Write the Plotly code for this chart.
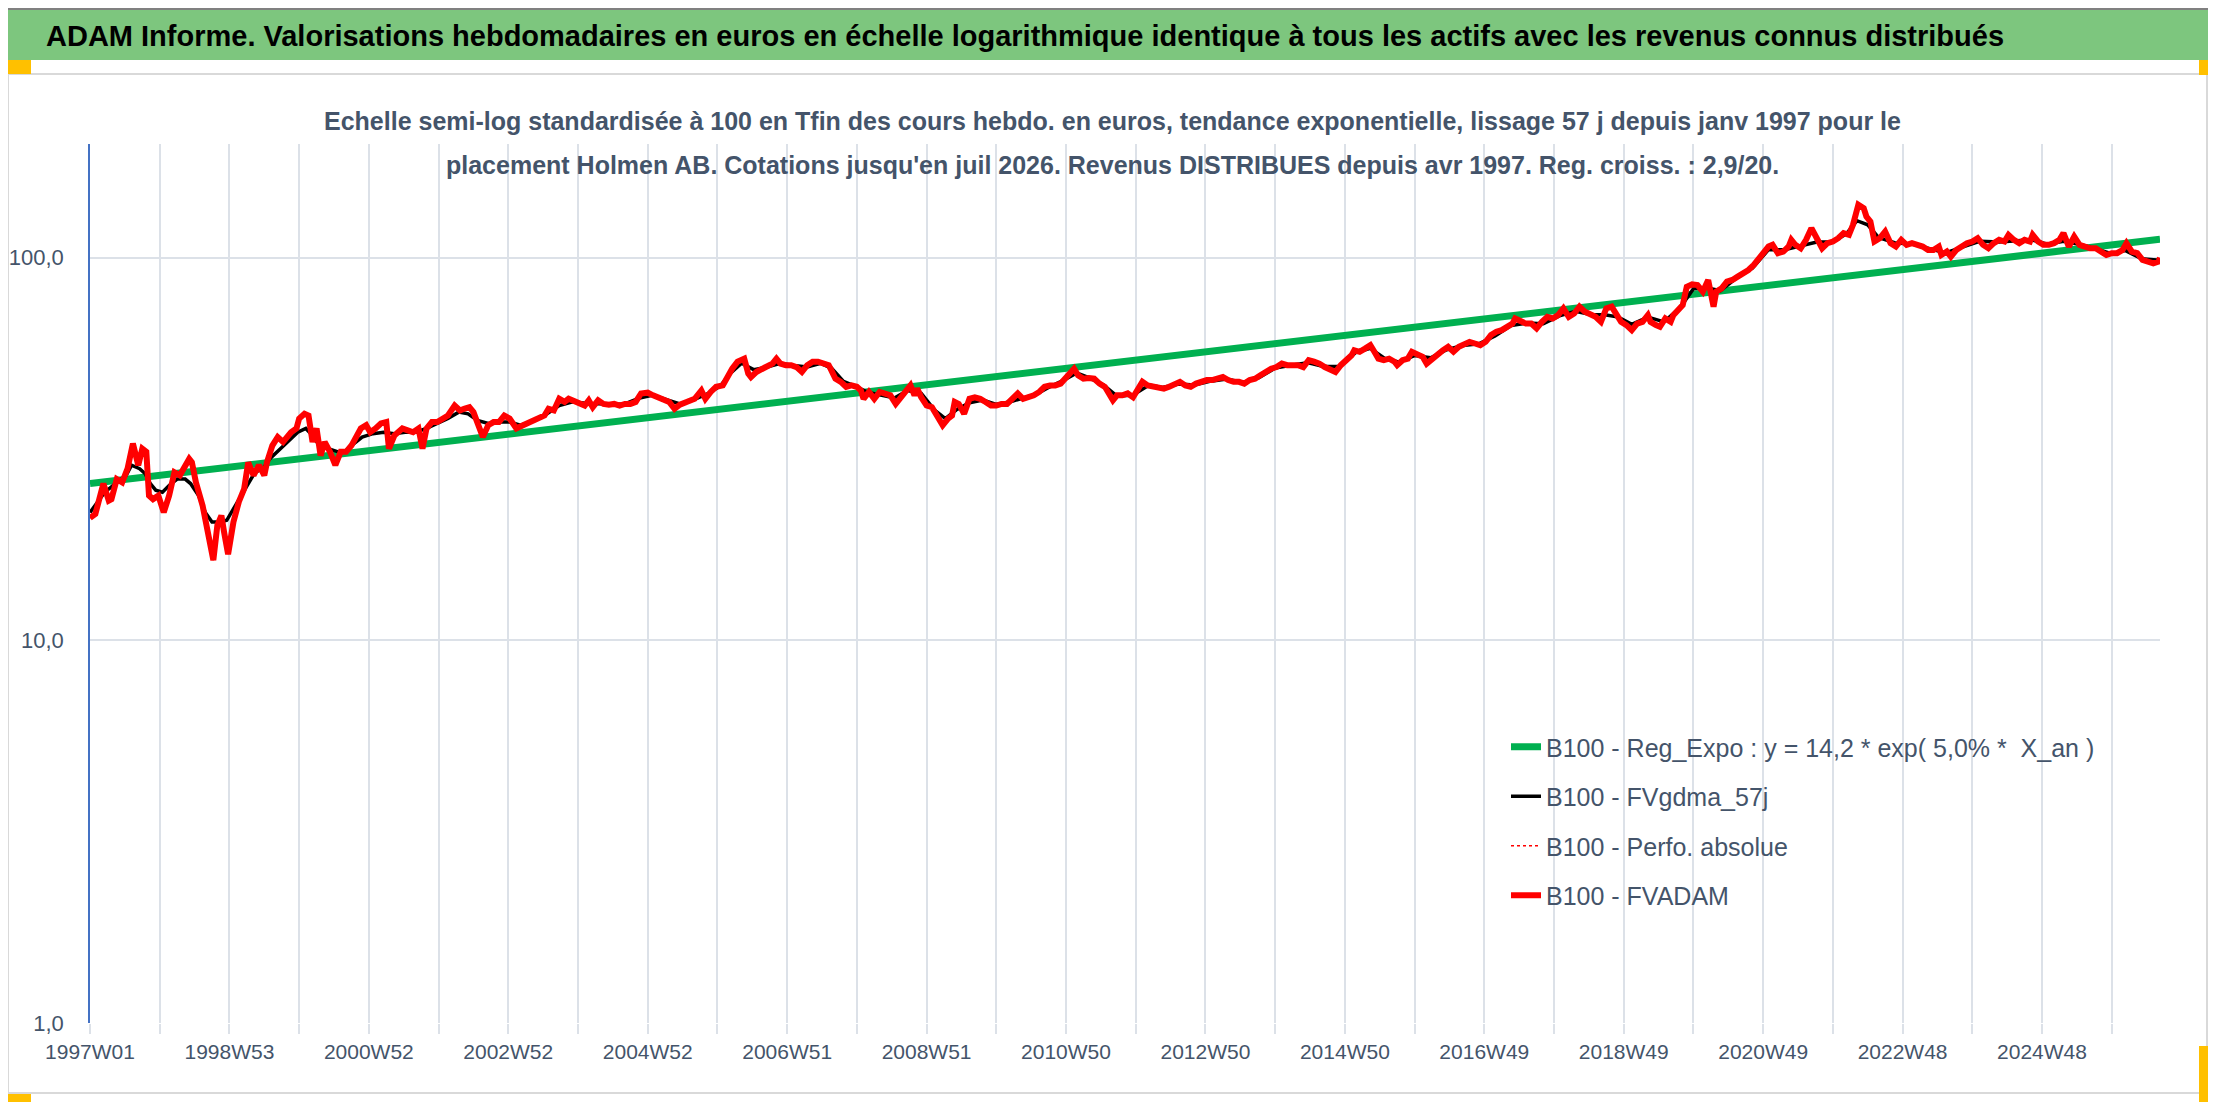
import datetime
import plotly.graph_objects as go

title = "ADAM Informe. Valorisations hebdomadaires en euros en échelle logarithmique identique à tous les actifs avec les revenus connus distribués"
subtitle1 = "Echelle semi-log standardisée à 100 en Tfin des cours hebdo. en euros, tendance exponentielle, lissage 57 j depuis janv 1997 pour le"
subtitle2 = "placement Holmen AB. Cotations jusqu'en juil 2026. Revenus DISTRIBUES depuis avr 1997. Reg. croiss. : 2,9/20."

# weekly categories, 1997W01 .. 2026W29
N_WEEKS = 1545
start = datetime.date(1996, 12, 30)
week_labels = []
for i in range(N_WEEKS):
    yy, ww, _ = (start + datetime.timedelta(weeks=i)).isocalendar()
    week_labels.append(f"{yy}W{ww:02d}")

# B100 - FVADAM (week index, value)
fvadam_wk = [0, 4, 10, 14, 16, 20, 24, 28, 32, 36, 39, 42, 44, 47, 51, 55, 59, 63, 67, 71, 74, 76, 79, 84, 88, 92, 95, 98, 100, 103,
             107, 111, 115, 118, 122, 126, 130, 132, 136, 140, 144, 150, 154, 156, 160, 163, 166, 169, 172, 175, 179, 183, 187, 191,
             195, 199, 202, 206, 209, 213, 217, 221, 223, 227, 233, 237, 241, 245, 248, 251, 255, 259, 263, 267, 272, 276, 279, 283,
             286, 289, 293, 297, 301, 305, 309, 313, 318, 323, 329, 334, 339, 342, 346, 350, 354, 357,
             365, 369, 372, 375, 379, 383, 387, 391, 395, 399, 403, 407, 411, 416, 420, 424, 428, 432, 436, 440, 445, 451, 456, 459,
             463, 467, 472, 475, 479, 483, 487, 488, 491, 493, 497, 501, 505, 509, 512, 515, 519, 523, 527, 531, 535, 539, 543, 547,
             551, 553, 556, 560, 564, 568, 572, 575, 577, 581, 585, 589, 593, 597, 601, 605, 609, 612, 615, 617, 620, 624, 628, 632,
             636, 640, 643, 645, 648, 652, 656, 660, 664, 668, 672, 676, 680, 684, 688, 692, 696, 700, 704, 708, 712, 716, 720, 724,
             728, 731, 734, 737, 741, 745, 749, 753, 757, 763, 766, 770, 774, 778,
             782, 785, 789, 793, 797, 801, 805, 809, 813, 817, 821, 825, 829, 833, 837, 841, 845, 849, 853, 857, 861, 865, 869, 873,
             877, 881, 885, 889, 893, 897, 901, 905, 909, 913, 917, 921, 925, 929, 933, 937, 941, 943, 947, 951, 955, 958, 961, 965,
             969, 973, 975, 979, 983, 986, 990, 994, 997, 1001, 1005, 1009, 1013, 1017, 1021, 1025, 1029, 1033, 1037, 1041, 1045,
             1049, 1053, 1057, 1061, 1063, 1067, 1071, 1075, 1079, 1083, 1087, 1091, 1095, 1099, 1103, 1107, 1111, 1115, 1119, 1123,
             1127, 1131, 1135, 1138, 1142, 1146, 1150, 1154, 1158, 1162,
             1164, 1168, 1171, 1175, 1179, 1181, 1185, 1188, 1191, 1195, 1199, 1203, 1207, 1211, 1213, 1217, 1221, 1225, 1229, 1233,
             1237, 1241, 1245, 1248, 1252, 1255, 1259, 1263, 1267, 1269, 1272, 1276, 1280, 1284, 1288, 1292, 1296, 1300, 1304, 1308,
             1312, 1315, 1319, 1323, 1325, 1328, 1331, 1335, 1339, 1343, 1347, 1351, 1355, 1359, 1363, 1367, 1371, 1375, 1379, 1381,
             1385, 1388, 1392, 1396, 1400, 1404, 1408, 1412, 1416, 1420, 1424, 1428, 1431, 1435, 1439, 1443, 1447, 1449, 1453, 1457,
             1461, 1465, 1469, 1472, 1476, 1480, 1484, 1488, 1492, 1496, 1500, 1504, 1508, 1512, 1516, 1519, 1523, 1527, 1531, 1535,
             1539, 1543, 1544]
fvadam_val = [20.9, 21.4, 25.7, 23.2, 23.4, 26.4, 25.9, 28.1, 32.7, 28.7, 31.7, 31.1, 23.9, 23.4, 23.9, 21.6, 23.9, 27.5, 27.0, 28.7,
              29.8, 29.2, 25.9, 22.5, 18.8, 16.2, 20.0, 21.2, 19.2, 16.8, 20.4, 23.0, 24.9, 29.2, 27.0, 28.7, 27.0, 29.2, 32.3, 34.0,
              33.0, 35.0, 35.8, 38.0, 39.1, 38.7, 33.0, 35.8, 30.4, 33.0, 31.1, 28.7, 31.1, 31.1, 32.3, 34.3, 35.8, 36.5, 35.0, 35.8,
              36.9, 37.2, 31.7, 34.3, 35.8, 35.4, 35.0, 35.8, 31.7, 35.8, 37.2, 37.2, 38.0, 38.7, 41.1, 39.9, 40.3, 40.7, 39.5, 37.2,
              34.0, 36.5, 37.2, 37.2, 38.7, 38.0, 35.8, 36.5, 37.2, 38.0, 38.7, 40.3, 39.9, 42.8, 42.0, 42.8,
              41.5, 41.1, 42.4, 40.7, 42.4, 41.5, 41.3, 41.5, 41.1, 41.5, 41.5, 42.0, 44.2, 44.4, 43.7, 43.2, 42.8, 42.0, 40.3, 41.3,
              42.0, 42.8, 45.0, 42.8, 44.6, 46.0, 46.4, 48.8, 51.3, 53.5, 54.0, 54.5, 49.8, 48.8, 50.3, 51.3, 51.8, 52.9, 54.5, 52.9,
              52.4, 52.4, 51.8, 50.3, 52.4, 53.5, 53.5, 52.9, 52.4, 50.8, 48.3, 47.4, 46.0, 46.4, 46.0, 45.0, 42.8, 44.6, 42.8, 44.6,
              44.2, 43.7, 41.5, 43.2, 45.5, 46.4, 43.7, 45.5, 43.2, 41.1, 40.7, 38.7, 36.5, 38.0, 38.7, 42.0, 41.5, 39.1, 42.8, 43.2,
              42.8, 42.0, 41.1, 41.1, 41.5, 41.5, 42.8, 44.2, 42.8, 43.2, 43.7, 44.6, 46.0, 46.4, 46.4, 46.9, 48.8, 50.3, 51.3, 49.3,
              48.3, 48.5, 48.3, 46.9, 46.0, 42.4, 43.7, 43.7, 44.2, 43.2,
              45.5, 47.4, 46.4, 46.0, 45.5, 45.5, 46.0, 46.9, 47.4, 46.4, 46.0, 46.9, 47.4, 47.9, 47.9, 48.3, 48.8, 47.9, 47.4, 47.4,
              46.9, 47.9, 48.3, 49.3, 50.3, 51.3, 51.8, 52.9, 52.4, 52.4, 52.4, 51.8, 54.0, 53.5, 52.9, 51.8, 50.8, 50.3, 52.4, 54.0,
              55.6, 57.3, 56.8, 57.9, 59.1, 56.8, 54.5, 54.0, 54.5, 53.5, 52.4, 54.0, 54.5, 56.8, 56.2, 55.1, 52.9, 54.5, 55.6, 57.3,
              58.5, 56.8, 58.5, 59.7, 60.3, 59.7, 59.1, 60.3, 62.8, 64.1, 64.7, 66.0, 67.3, 69.4, 68.0, 67.3, 67.3, 65.4, 68.0, 70.1,
              69.4, 70.8, 73.7, 70.1, 71.5, 74.5, 72.3, 71.5, 70.1, 68.0, 73.7, 74.5, 71.5, 68.0, 66.7, 64.7, 67.3, 68.0, 70.8,
              68.0, 66.7, 66.0, 69.4, 68.0, 70.8, 73.7, 75.2, 84.0, 85.2, 84.9, 81.6, 87.5, 74.5, 81.6, 83.2, 86.6, 87.5, 89.3, 91.1,
              92.9, 95.8, 99.7, 103.8, 107.0, 108.1, 102.8, 103.8, 107.0, 111.4, 108.1, 105.9, 111.4, 119.5, 111.4, 105.9, 109.2,
              110.3, 112.5, 116.0, 114.8, 121.9, 137.6, 134.8, 128.2, 124.4, 110.3, 112.5, 117.1, 109.2, 107.0, 111.4, 108.1, 109.2,
              108.1, 107.0, 104.8, 104.8, 107.0, 101.7, 103.8, 100.7, 104.8, 107.0, 109.2, 110.3, 112.5, 108.1, 105.9, 109.2, 111.4,
              110.3, 114.8, 111.4, 109.2, 111.4, 110.3, 114.8, 110.3, 108.1, 108.1, 109.2, 111.4, 116.0, 107.0, 113.6, 108.1, 107.0,
              105.9, 105.9, 103.8, 101.7, 102.8, 102.8, 104.8, 109.2, 103.8, 102.8, 98.7, 97.7, 96.7, 97.7, 100.0]

# B100 - FVgdma_57j (smoothed)
gdma_wk = [0, 11, 19, 27, 31, 37, 41, 45, 49, 54, 59, 65, 71, 75, 81, 86, 91, 97, 102, 107, 113, 118, 123, 129, 134, 142, 150, 155,
           161, 166, 171, 179, 185, 190, 195, 203, 211, 219, 227, 235, 243, 251, 259, 267, 275, 282, 289, 297, 305, 313, 321, 329,
           339, 350, 360, 372, 385, 398, 410, 420, 430, 440, 450, 460, 470, 478, 486, 495, 505, 515, 525, 535, 545, 553, 562, 572,
           580, 590, 600, 610, 620, 630, 638, 646, 656, 666, 676, 686, 696, 706, 716, 726, 736, 745, 756, 766, 778, 790, 800, 812,
           824, 836, 848, 860, 872, 884, 896, 908, 920, 932, 944, 955, 966, 976, 988, 1000, 1012, 1024, 1036, 1048, 1060, 1072,
           1084, 1096, 1108, 1120, 1130, 1140, 1150, 1162, 1174, 1186, 1196, 1206, 1216, 1228, 1240, 1252, 1264, 1276, 1288, 1300,
           1310, 1318, 1326, 1334, 1346, 1360, 1372, 1384, 1396, 1410, 1424, 1436, 1448, 1460, 1472, 1484, 1496, 1508, 1518, 1530,
           1544]
gdma_val = [21.6, 24.4, 25.7, 27.0, 28.7, 28.1, 27.3, 25.7, 24.7, 24.4, 25.4, 26.4, 26.4, 25.7, 23.9, 21.6, 20.4, 20.4, 20.6, 22.1,
            23.9, 25.9, 27.5, 28.1, 29.8, 31.7, 33.7, 35.0, 35.8, 34.3, 32.3, 31.7, 31.1, 31.1, 32.3, 34.0, 34.7, 35.0, 34.7, 35.0,
            35.0, 35.8, 36.9, 38.0, 39.5, 39.1, 37.6, 36.9, 37.2, 37.2, 36.5, 37.2, 38.7, 41.1, 42.0, 41.6, 41.5, 41.4, 43.0, 43.8,
            42.6, 41.5, 42.5, 44.0, 46.2, 50.0, 53.0, 51.0, 51.8, 53.0, 52.3, 51.8, 53.0, 51.5, 47.5, 46.0, 44.5, 43.8, 43.0, 45.0,
            44.2, 40.0, 38.0, 40.0, 41.8, 42.5, 41.4, 42.0, 43.0, 44.0, 46.0, 47.8, 50.0, 48.6, 46.5, 43.5, 43.8, 46.5, 45.8, 46.8,
            46.5, 47.6, 48.2, 47.2, 48.6, 51.5, 52.4, 53.2, 52.0, 52.0, 56.5, 58.0, 54.5, 53.4, 55.5, 54.8, 57.5, 59.0, 59.6, 62.5,
            66.5, 67.5, 67.2, 70.5, 72.5, 71.0, 71.0, 70.0, 67.0, 70.0, 68.0, 74.0, 83.0, 83.5, 82.0, 88.5, 94.0, 105.0, 105.0,
            107.5, 110.0, 110.0, 115.5, 125.0, 122.0, 113.0, 109.5, 108.5, 105.5, 103.0, 106.5, 110.5, 110.0, 111.0, 111.5, 108.5,
            110.5, 108.5, 105.5, 102.5, 104.5, 99.5, 98.5]

# B100 - Reg_Expo, read at both ends
reg_wk = [0, 1544]
reg_val = [25.7, 111.8]

W, H = 2216, 1102
L, R, T, B = 82, 64, 136, 87
PW, PH = W - L - R, H - T - B


def px_x(px):
    return (px - L) / PW


def px_y(py):
    return (H - B - py) / PH


FONT = "Liberation Sans Narrow, Arial Narrow, Liberation Sans, Arial, sans-serif"
TXT = "#44546A"
GRID = "#DCE1E8"

fig = go.Figure()

fig.add_trace(go.Scatter(x=reg_wk, y=reg_val, mode="lines", name="B100 - Reg_Expo : y = 14,2 * exp( 5,0% *  X_an )",
                         line=dict(color="#00B050", width=7), legendgroup="a"))
fig.add_trace(go.Scatter(x=gdma_wk, y=gdma_val, mode="lines", name="B100 - FVgdma_57j",
                         line=dict(color="black", width=3.5), legendgroup="b"))
fig.add_trace(go.Scatter(x=fvadam_wk, y=fvadam_val, mode="lines", name="B100 - Perfo. absolue",
                         line=dict(color="#FF0000", width=1.5, dash="dot"), legendgroup="c"))
fig.add_trace(go.Scatter(x=fvadam_wk, y=fvadam_val, mode="lines", name="B100 - FVADAM",
                         line=dict(color="#FF0000", width=6), legendgroup="d"))

tickvals = list(range(0, N_WEEKS, 52))
ticktext = [week_labels[i] if i % 104 == 0 else "" for i in tickvals]

fig.update_xaxes(type="linear", range=[0, N_WEEKS - 1], tickvals=tickvals, ticktext=ticktext,
                 showgrid=True, gridcolor=GRID, gridwidth=1.5, ticks="outside", ticklen=10,
                 tickcolor=GRID, tickwidth=1.5, showline=False, zeroline=False, automargin=False,
                 tickfont=dict(family=FONT, size=21, color=TXT))
fig.update_yaxes(type="log", range=[0, 2.2974], tickvals=[1, 10, 100], ticktext=["1,0", "10,0", "100,0"],
                 showgrid=True, gridcolor=GRID, gridwidth=1.5, showline=True, linecolor="#4472C4", linewidth=1.5,
                 ticks="", ticklabelstandoff=20, zeroline=False, automargin=False,
                 tickfont=dict(family=FONT, size=22, color=TXT))

shapes = [
    dict(type="rect", xref="paper", yref="paper", x0=px_x(0), x1=px_x(2199), y0=px_y(1085), y1=px_y(66),
         line=dict(color="#D9D9D9", width=2), fillcolor="rgba(0,0,0,0)", layer="below"),
    dict(type="rect", xref="paper", yref="paper", x0=px_x(0), x1=px_x(W), y0=px_y(52), y1=px_y(0),
         line=dict(width=0), fillcolor="#7DC67E"),
    dict(type="line", xref="paper", yref="paper", x0=px_x(0), x1=px_x(W), y0=px_y(1), y1=px_y(1),
         line=dict(color="#808080", width=2)),
    dict(type="line", xref="paper", yref="paper", x0=px_x(0), x1=px_x(W), y0=px_y(1101), y1=px_y(1101),
         line=dict(color="#808080", width=2)),
]
for x0, x1, y0, y1 in [(0, 23, 52, 66), (0, 23, 1086, 1100), (2191, 2216, 52, 67), (2191, 2216, 1038, 1100)]:
    shapes.append(dict(type="rect", xref="paper", yref="paper", x0=px_x(x0), x1=px_x(x1), y0=px_y(y1), y1=px_y(y0),
                       line=dict(width=0), fillcolor="#FFC000"))

annotations = [
    dict(text=f"<b>{title}</b>", xref="paper", yref="paper", x=px_x(36), y=px_y(28), xanchor="left", yanchor="middle",
         showarrow=False, font=dict(family=FONT, size=29, color="black")),
    dict(text=f"<b>{subtitle1}</b>", xref="paper", yref="paper", x=px_x(1104), y=px_y(113), xanchor="center",
         yanchor="middle", showarrow=False, font=dict(family=FONT, size=25, color=TXT)),
    dict(text=f"<b>{subtitle2}</b>", xref="paper", yref="paper", x=px_x(1104), y=px_y(157), xanchor="center",
         yanchor="middle", showarrow=False, font=dict(family=FONT, size=25, color=TXT)),
]

fig.update_layout(
    width=W, height=H,
    margin=dict(l=L, r=R, t=T, b=B, autoexpand=False),
    paper_bgcolor="white", plot_bgcolor="white",
    shapes=shapes, annotations=annotations,
    showlegend=True,
    legend=dict(x=px_x(1498), y=px_y(716), xanchor="left", yanchor="top", bgcolor="rgba(0,0,0,0)",
                font=dict(family=FONT, size=25, color=TXT), tracegroupgap=14, itemwidth=30,
                traceorder="grouped"),
)

fig.write_html("out.html")
